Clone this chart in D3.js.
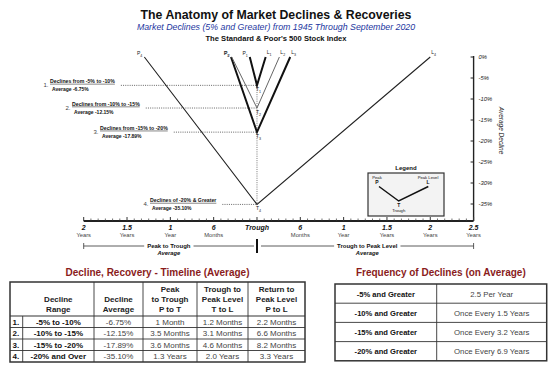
<!DOCTYPE html>
<html>
<head>
<meta charset="utf-8">
<script src="https://cdn.jsdelivr.net/npm/d3@7"></script>
<style>
  body { margin: 0; background: #fff; }
  svg { display: block; font-family: "Liberation Sans", Arial, Helvetica, sans-serif; }
</style>
</head>
<body>
<svg id="chart" width="550" height="370"></svg>
<script>
// ---- data ----
const declineRanges = ['-5% to -10%', '-10% to -15%', '-15% to -20%', '-20% and Over'];
const declineLabels = ['Declines from -5% to -10%', 'Declines from -10% to -15%',
                       'Declines from -15% to -20%', 'Declines of -20% & Greater'];
const avgDecline = [-6.75, -12.15, -17.89, -35.10];
const peakToTroughMonths = [1, 3.5, 3.6, 15.6];
const troughToPeakMonths = [1.2, 3.1, 4.6, 24];
const peakToTroughText = ['1 Month', '3.5 Months', '3.6 Months', '1.3 Years'];
const troughToPeakText = ['1.2 Months', '3.1 Months', '4.6 Months', '2.0 Years'];
const peakToPeakText = ['2.2 Months', '6.6 Months', '8.2 Months', '3.3 Years'];

const timeTicks = [-24, -18, -12, -6, 0, 6, 12, 18, 24, 30];
const timeTickNums = ['2', '1.5', '1', '6', 'Trough', '6', '1', '1.5', '2', '2.5'];
const timeTickUnits = ['Years', 'Years', 'Year', 'Months', '', 'Months', 'Year', 'Years', 'Years', 'Years'];
const declineTicks = [0, -5, -10, -15, -20, -25, -30, -35];

const freqLevels = ['-5% and Greater', '-10% and Greater', '-15% and Greater', '-20% and Greater'];
const freqText = ['2.5 Per Year', 'Once Every 1.5 Years', 'Once Every 3.2 Years', 'Once Every 6.9 Years'];

// ---- layout ----
const labelX = [50, 72, 100, 150];       // left edge of the numbered labels
const lineWidth = [2, 1, 2, 1.1];
const lineColor = ['#111', '#666', '#111', '#222'];

const pct = v => v.toFixed(2) + '%';      // plain hyphen, as in the original

const svg = d3.select('#chart');

const x = d3.scaleLinear().domain([-24, 30]).range([83.7, 473.6]);
const y = d3.scaleLinear().domain([0, -39]).range([57, 220.8]);
const axisY = 221;

// ---- titles ----
svg.append('text').attr('x', 276).attr('y', 19).attr('text-anchor', 'middle')
  .attr('font-size', 12.3).attr('font-weight', 'bold').attr('fill', '#111')
  .text('The Anatomy of Market Declines & Recoveries');
svg.append('text').attr('x', 276).attr('y', 30).attr('text-anchor', 'middle')
  .attr('font-size', 8.8).attr('font-style', 'italic').attr('fill', '#1c36a0')
  .text('Market Declines (5% and Greater) from 1945 Through September 2020');
svg.append('text').attr('x', 276).attr('y', 41).attr('text-anchor', 'middle')
  .attr('font-size', 7.6).attr('font-weight', 'bold').attr('fill', '#111')
  .text("The Standard & Poor's 500 Stock Index");

// ---- right axis (average decline) ----
const yAxis = svg.append('g').attr('transform', `translate(${x(30)},0)`);
yAxis.append('line').attr('y1', y(0) - 1).attr('y2', axisY).attr('stroke', '#222').attr('stroke-width', 1.4);
yAxis.selectAll('line.tk').data(declineTicks).enter().append('line').attr('class', 'tk')
  .attr('x1', -3).attr('x2', 0).attr('y1', d => y(d)).attr('y2', d => y(d))
  .attr('stroke', '#222').attr('stroke-width', 1);
yAxis.selectAll('text').data(declineTicks).enter().append('text')
  .attr('x', 5).attr('y', d => y(d) + 2).attr('font-size', 5.8).attr('font-style', 'italic')
  .attr('fill', '#222').text(d => d + '%');
svg.append('text').attr('transform', `translate(499,${y(-17.5)}) rotate(90)`)
  .attr('text-anchor', 'middle').attr('font-size', 6.5).attr('font-style', 'italic')
  .attr('fill', '#222').text('Average Decline');

// ---- time axis ----
const xAxis = svg.append('g');
xAxis.append('line').attr('x1', x(-24)).attr('x2', x(30)).attr('y1', axisY).attr('y2', axisY)
  .attr('stroke', '#222').attr('stroke-width', 2);
xAxis.selectAll('line.minor').data(d3.range(-24, 31)).enter().append('line').attr('class', 'minor')
  .attr('x1', d => x(d)).attr('x2', d => x(d))
  .attr('y1', axisY).attr('y2', d => axisY - (d % 6 === 0 ? 4 : 2.5))
  .attr('stroke', '#333').attr('stroke-width', d => d % 6 === 0 ? 1 : 0.7);
xAxis.selectAll('text.num').data(timeTicks).enter().append('text').attr('class', 'num')
  .attr('x', d => x(d)).attr('y', axisY + 9).attr('text-anchor', 'middle')
  .attr('font-size', 7).attr('font-style', 'italic').attr('font-weight', 'bold').attr('fill', '#111')
  .text((d, i) => timeTickNums[i]);
xAxis.selectAll('text.unit').data(timeTicks).enter().append('text').attr('class', 'unit')
  .attr('x', d => x(d)).attr('y', axisY + 15.5).attr('text-anchor', 'middle')
  .attr('font-size', 5.8).attr('fill', '#444')
  .text((d, i) => timeTickUnits[i]);

// brackets under the axis
const brY = 246;
function bracket(x0, x1, label, endTickAt) {
  const mid = (x0 + x1) / 2;
  const t = svg.append('text').attr('x', mid).attr('y', brY + 2).attr('text-anchor', 'middle')
    .attr('font-size', 6).attr('font-weight', 'bold').attr('fill', '#111').text(label);
  const w = t.node().getComputedTextLength() / 2 + 3;
  svg.append('line').attr('x1', x0).attr('x2', mid - w).attr('y1', brY).attr('y2', brY).attr('stroke', '#333').attr('stroke-width', 0.8);
  svg.append('line').attr('x1', mid + w).attr('x2', x1).attr('y1', brY).attr('y2', brY).attr('stroke', '#333').attr('stroke-width', 0.8);
  svg.append('line').attr('x1', endTickAt).attr('x2', endTickAt).attr('y1', brY - 3).attr('y2', brY + 3).attr('stroke', '#333').attr('stroke-width', 0.8);
  svg.append('text').attr('x', mid).attr('y', brY + 8.5).attr('text-anchor', 'middle')
    .attr('font-size', 5.8).attr('font-weight', 'bold').attr('font-style', 'italic').attr('fill', '#111').text('Average');
}
bracket(x(-24), x(0) - 3, 'Peak to Trough', x(-24));
bracket(x(0) + 4, x(30), 'Trough to Peak Level', x(30));
svg.append('line').attr('x1', x(0)).attr('x2', x(0)).attr('y1', brY - 7).attr('y2', brY + 7)
  .attr('stroke', '#111').attr('stroke-width', 2);

// ---- decline/recovery paths ----
const plot = svg.append('g');
const idx = d3.range(avgDecline.length);

// dotted trough line
plot.append('line').attr('x1', x(0)).attr('x2', x(0))
  .attr('y1', y(avgDecline[0])).attr('y2', y(avgDecline[3]))
  .attr('stroke', '#777').attr('stroke-width', 1).attr('stroke-dasharray', '1,1.2');

// numbered labels + leader lines
idx.forEach(i => {
  const ty = y(avgDecline[i]);
  const g = plot.append('g');
  const t = g.append('text').attr('x', labelX[i]).attr('y', ty - 2)
    .attr('font-size', 5.2).attr('font-weight', 'bold').attr('fill', '#111').text(declineLabels[i]);
  const w = t.node().getComputedTextLength();
  g.append('line').attr('x1', labelX[i]).attr('x2', labelX[i] + w).attr('y1', ty - 1.2).attr('y2', ty - 1.2)
    .attr('stroke', '#111').attr('stroke-width', 0.5);
  g.append('text').attr('x', labelX[i] + 2).attr('y', ty + 5.5)
    .attr('font-size', 5).attr('font-weight', 'bold').attr('fill', '#111')
    .text('Average ' + pct(avgDecline[i]));
  g.append('text').attr('x', labelX[i] - 1.5).attr('y', ty + 2).attr('text-anchor', 'end')
    .attr('font-size', 6).attr('fill', '#444').text((i + 1) + '.');
  g.append('line').attr('x1', labelX[i] + w + 6).attr('x2', x(0)).attr('y1', ty).attr('y2', ty)
    .attr('stroke', '#666').attr('stroke-width', 1).attr('stroke-dasharray', '1,1.2');
});

// P -> T -> L lines
const lineGen = d3.line().x(d => x(d[0])).y(d => y(d[1]));
idx.slice().reverse().forEach(i => {
  plot.append('path')
    .attr('d', lineGen([[-peakToTroughMonths[i], 0], [0, avgDecline[i]], [troughToPeakMonths[i], 0]]))
    .attr('fill', 'none').attr('stroke', lineColor[i]).attr('stroke-width', lineWidth[i])
    .attr('stroke-linejoin', 'miter');
});

// P, T, L point labels
function ptLabel(px, py, letter, n, anchor) {
  const t = plot.append('text').attr('x', px).attr('y', py).attr('text-anchor', anchor)
    .attr('font-size', 5).attr('fill', '#222');
  t.append('tspan').text(letter);
  t.append('tspan').attr('font-size', 3.6).attr('dy', 1.5).text(n);
}
idx.forEach(i => {
  ptLabel(x(-peakToTroughMonths[i]) - 2, y(0) - 2, 'P', i + 1, 'end');
  ptLabel(x(troughToPeakMonths[i]) + 1, y(0) - 3, 'L', i + 1, 'start');
  ptLabel(x(0) - 1, y(avgDecline[i]) + 6, 'T', i + 1, 'start');
});

// ---- legend ----
const lg = svg.append('g');
lg.append('rect').attr('x', 368).attr('y', 173).attr('width', 76).attr('height', 43)
  .attr('fill', '#f3f3f3').attr('stroke', '#333').attr('stroke-width', 1.2);
lg.append('text').attr('x', 406).attr('y', 170).attr('text-anchor', 'middle')
  .attr('font-size', 6).attr('font-weight', 'bold').attr('fill', '#111').text('Legend');
lg.append('path').attr('d', 'M379,186.5L398.7,201L428.3,186.5')
  .attr('fill', 'none').attr('stroke', '#111').attr('stroke-width', 1.5);
[['Peak', 377, 178.5, 4.2, 'normal'], ['P', 377, 184, 5, 'bold'], ['Peak Level', 428, 178.5, 4.2, 'normal'],
 ['L', 428, 184, 5, 'bold'], ['T', 398.7, 206.5, 5, 'bold'], ['Trough', 398.7, 212, 4.2, 'normal']]
  .forEach(([s, lx, ly, fs, fw]) => {
    lg.append('text').attr('x', lx).attr('y', ly).attr('text-anchor', 'middle')
      .attr('font-size', fs).attr('font-weight', fw).attr('fill', '#111').text(s);
  });

// ---- timeline table ----
const tColX = [10, 22.7, 94, 143, 197, 248, 305];
const tTop = 282, tHeadBot = 316, tRowH = 11.5;
const tBot = tHeadBot + tRowH * 4;
svg.append('text').attr('x', (tColX[0] + tColX[6]) / 2).attr('y', 276).attr('text-anchor', 'middle')
  .attr('font-size', 10).attr('font-weight', 'bold').attr('fill', '#8a1c1c')
  .text('Decline, Recovery - Timeline (Average)');
const tb = svg.append('g');
tb.append('rect').attr('x', tColX[0]).attr('y', tTop).attr('width', tColX[6] - tColX[0]).attr('height', tBot - tTop)
  .attr('fill', '#fff').attr('stroke', '#333').attr('stroke-width', 1.5);
d3.range(1, 5).forEach(r => {
  tb.append('line').attr('x1', tColX[0]).attr('x2', tColX[6])
    .attr('y1', tHeadBot + (r - 1) * tRowH).attr('y2', tHeadBot + (r - 1) * tRowH)
    .attr('stroke', '#333').attr('stroke-width', r === 1 ? 1.2 : 0.9);
});
tColX.slice(1, 6).forEach((cx, k) => {
  tb.append('line').attr('x1', cx).attr('x2', cx).attr('y1', k === 0 ? tHeadBot : tTop).attr('y2', tBot)
    .attr('stroke', '#333').attr('stroke-width', 0.9);
});
const heads = [[], ['Decline', 'Range'], ['Decline', 'Average'], ['Peak', 'to Trough', 'P to T'],
               ['Trough to', 'Peak Level', 'T to L'], ['Return to', 'Peak Level', 'P to L']];
heads.forEach((lines, c) => {
  const cx = (tColX[c] + tColX[c + 1]) / 2;
  lines.forEach((s, j) => {
    tb.append('text').attr('x', cx).attr('y', tHeadBot - 4 - (lines.length - 1 - j) * 10)
      .attr('text-anchor', 'middle').attr('font-size', 8).attr('font-weight', 'bold').attr('fill', '#222').text(s);
  });
});
idx.forEach(i => {
  const ry = tHeadBot + i * tRowH + tRowH / 2 + 3;
  const cells = [(i + 1) + '.', declineRanges[i], pct(avgDecline[i]),
                 peakToTroughText[i], troughToPeakText[i], peakToPeakText[i]];
  cells.forEach((s, c) => {
    tb.append('text').attr('x', c === 0 ? tColX[0] + 2.5 : (tColX[c] + tColX[c + 1]) / 2).attr('y', ry)
      .attr('text-anchor', c === 0 ? 'start' : 'middle').attr('font-size', 8)
      .attr('font-weight', c < 2 ? 'bold' : 'normal').attr('fill', c < 2 ? '#111' : '#444').text(s);
  });
});

// ---- frequency table ----
const fColX = [335, 436.7, 546.7];
const fTop = 284, fRowH = 19.2;
svg.append('text').attr('x', (fColX[0] + fColX[2]) / 2).attr('y', 276).attr('text-anchor', 'middle')
  .attr('font-size', 10).attr('font-weight', 'bold').attr('fill', '#8a1c1c')
  .text('Frequency of Declines (on Average)');
const fb = svg.append('g');
fb.append('rect').attr('x', fColX[0]).attr('y', fTop).attr('width', fColX[2] - fColX[0]).attr('height', fRowH * 4)
  .attr('fill', '#fff').attr('stroke', '#333').attr('stroke-width', 1.5);
fb.append('line').attr('x1', fColX[1]).attr('x2', fColX[1]).attr('y1', fTop).attr('y2', fTop + fRowH * 4)
  .attr('stroke', '#333').attr('stroke-width', 0.9);
d3.range(1, 4).forEach(r => {
  fb.append('line').attr('x1', fColX[0]).attr('x2', fColX[2]).attr('y1', fTop + r * fRowH).attr('y2', fTop + r * fRowH)
    .attr('stroke', '#333').attr('stroke-width', 0.9);
});
freqLevels.forEach((s, i) => {
  const ry = fTop + i * fRowH + fRowH / 2 + 3;
  fb.append('text').attr('x', (fColX[0] + fColX[1]) / 2).attr('y', ry).attr('text-anchor', 'middle')
    .attr('font-size', 7.6).attr('font-weight', 'bold').attr('fill', '#111').text(s);
  fb.append('text').attr('x', (fColX[1] + fColX[2]) / 2).attr('y', ry).attr('text-anchor', 'middle')
    .attr('font-size', 7.8).attr('fill', '#444').text(freqText[i]);
});
</script>
</body>
</html>
